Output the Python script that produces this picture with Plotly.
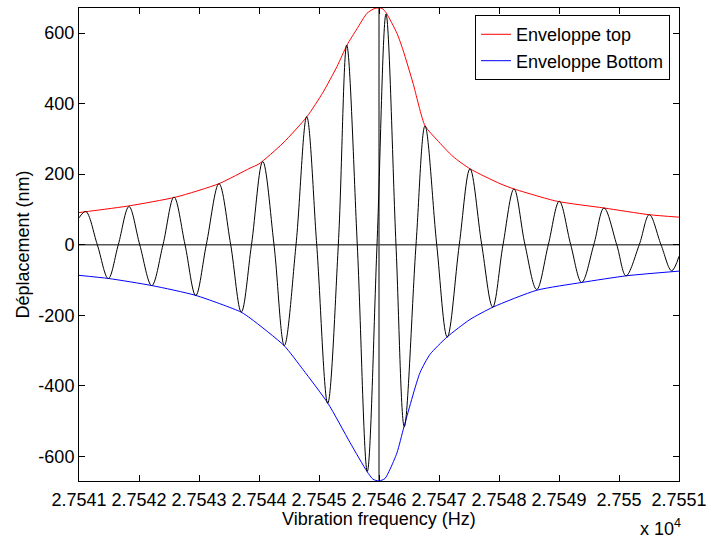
import plotly.graph_objects as go

# Frequencies are stored as offsets (Hz) from the left edge of the axis
F0 = 27541.0
RESONANCE_HZ = 27546.0

# Black response signal: peaks, troughs and zero crossings
signal_df = [0.000, 0.112, 0.305, 0.488, 0.655, 0.833, 1.012, 1.212, 1.400, 1.583,
             1.767, 1.945, 2.122, 2.333, 2.528, 2.705, 2.875, 3.062, 3.250, 3.422,
             3.617, 3.795, 3.962, 4.145, 4.322, 4.462, 4.638, 4.805, 4.967, 5.117,
             5.283, 5.422, 5.617, 5.767, 5.962, 6.138, 6.338, 6.517, 6.712, 6.895,
             7.067, 7.250, 7.433, 7.628, 7.822, 8.005, 8.195, 8.378, 8.580, 8.750,
             8.962, 9.117, 9.338, 9.505, 9.700, 9.878, 10.000]
signal_nm = [76, 94, 0, -96, 0, 108, 0, -116, 0, 135,
             0, -144, 0, 173, 0, -191, 0, 236, 0, -286,
             0, 363, 0, -450, 0, 566, 0, -643, 0, 654,
             0, -516, 0, 337, 0, -262, 0, 215, 0, -177,
             0, 158, 0, -127, 0, 123, 0, -107, 0, 104,
             0, -88, 0, 85, 0, -74, -33]

# Upper envelope
top_df = [0.000, 0.833, 1.617, 2.333, 2.850, 3.000, 3.400, 3.800, 4.067, 4.300,
          4.467, 4.633, 4.800, 4.933, 5.050, 5.117, 5.300, 5.400, 5.567, 5.767,
          5.967, 6.233, 6.517, 7.017, 7.250, 7.967, 8.750, 9.500, 10.000]
top_nm = [91, 110, 135, 173, 217, 229, 288, 363, 432, 505,
          566, 612, 656, 670, 670, 658, 599, 552, 458, 337,
          297, 250, 215, 173, 158, 123, 104, 85, 78]

# Lower envelope
bot_df = [0.000, 0.500, 1.217, 1.950, 2.700, 2.867, 3.417, 3.733, 4.150, 4.517,
          4.800, 4.900, 5.000, 5.100, 5.183, 5.300, 5.417, 5.683, 5.850, 6.133,
          6.517, 6.900, 7.633, 8.383, 9.133, 10.000]
bot_nm = [-87, -96, -116, -144, -191, -210, -286, -354, -450, -561,
          -643, -665, -670, -663, -637, -590, -516, -363, -311, -262,
          -212, -177, -129, -107, -88, -75]

x_tickvals = [27541, 27542, 27543, 27544, 27545, 27546, 27547, 27548, 27549, 27550, 27551]
x_ticktext = ["2.7541", "2.7542", "2.7543", "2.7544", "2.7545", "2.7546",
              "2.7547", "2.7548", "2.7549", "2.755", "2.7551"]
y_tickvals = [-600, -400, -200, 0, 200, 400, 600]
y_ticktext = ["-600", "-400", "-200", "0", "200", "400", "600"]

FONT = "Arial, Liberation Sans, sans-serif"
FS = 18

fig = go.Figure()

fig.add_trace(go.Scatter(
    x=[F0 + d for d in top_df], y=top_nm, mode="lines", name="Enveloppe top",
    line=dict(color="#ff0000", width=1, shape="spline", smoothing=0.6),
))
fig.add_trace(go.Scatter(
    x=[F0 + d for d in bot_df], y=bot_nm, mode="lines", name="Enveloppe Bottom",
    line=dict(color="#0000ff", width=1, shape="spline", smoothing=0.6),
))
fig.add_trace(go.Scatter(
    x=[F0 + d for d in signal_df], y=signal_nm, mode="lines", showlegend=False,
    line=dict(color="#000000", width=1, shape="spline", smoothing=1.0),
))

# zero line and resonance marker
fig.add_hline(y=0, line=dict(color="#555555", width=1.5), layer="below")
fig.add_vline(x=RESONANCE_HZ, line=dict(color="#555555", width=1.5), layer="below")

# x axis title placed as annotation so it sits closer to the tick labels
fig.add_annotation(
    text="Vibration frequency (Hz)", xref="paper", yref="paper", x=0.5, y=-0.081,
    xanchor="center", yanchor="middle", showarrow=False,
    font=dict(family=FONT, size=FS, color="#000000"),
)
fig.add_annotation(
    text="x 10<sup>4</sup>", xref="paper", yref="paper", x=1.0, y=-0.07,
    xanchor="right", yanchor="top", showarrow=False, xshift=4,
    font=dict(family=FONT, size=FS, color="#000000"),
)

axis_common = dict(
    showline=True, linecolor="#000000", linewidth=1, mirror="ticks",
    ticks="inside", ticklen=6, tickcolor="#000000", showgrid=False, zeroline=False,
    automargin=False,
    tickfont=dict(family=FONT, size=FS, color="#000000"),
)

fig.update_layout(
    width=708, height=539,
    margin=dict(l=79, r=29, t=8, b=58),
    paper_bgcolor="#ffffff", plot_bgcolor="#ffffff",
    font=dict(family=FONT, size=FS, color="#000000"),
    xaxis=dict(
        range=[27541, 27551], tickvals=x_tickvals, ticktext=x_ticktext,
        ticklabelstandoff=2,
        **axis_common,
    ),
    yaxis=dict(
        range=[-670, 671], tickvals=y_tickvals, ticktext=y_ticktext,
        title=dict(text="Déplacement (nm)", standoff=4,
                   font=dict(family=FONT, size=FS)),
        **axis_common,
    ),
    legend=dict(
        x=0.985, y=0.985, xanchor="right", yanchor="top",
        bgcolor="#ffffff", bordercolor="#000000", borderwidth=1,
        font=dict(family=FONT, size=FS, color="#000000"),
        tracegroupgap=0, itemwidth=30,
    ),
    showlegend=True,
)

# the page body has a default 8px margin; remove it so the figure sits at the corner
fig.write_html("out.html", config={"displayModeBar": False},
               post_script="document.body.style.margin='0px';")
